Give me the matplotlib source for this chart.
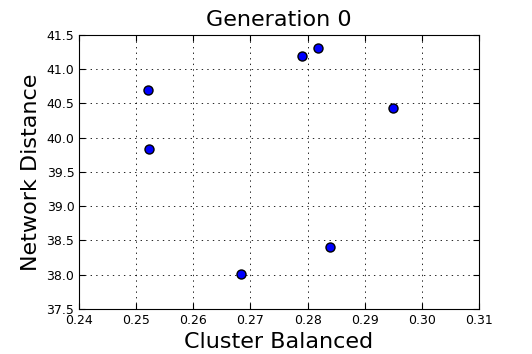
import matplotlib
matplotlib.use("Agg")
import matplotlib.pyplot as plt

# values
cluster_balanced = [0.2521, 0.2522, 0.2791, 0.2819, 0.2949, 0.2840, 0.2684]
network_distance = [40.69, 39.835, 41.19, 41.31, 40.43, 38.41, 38.01]

x_ticks = [0.24, 0.25, 0.26, 0.27, 0.28, 0.29, 0.30, 0.31]
y_ticks = [37.5, 38.0, 38.5, 39.0, 39.5, 40.0, 40.5, 41.0, 41.5]

plt.rcParams["lines.scale_dashes"] = False

fig, ax = plt.subplots(figsize=(5.32, 3.54), dpi=100)
fig.subplots_adjust(left=0.149, right=0.9, top=0.902, bottom=0.127)

ax.plot(cluster_balanced, network_distance, "o", color="#0000ff",
        mec="black", mew=1.0, ms=6.5)

ax.set_xlim(0.24, 0.31)
ax.set_ylim(37.5, 41.5)
ax.set_xticks(x_ticks)
ax.set_xticklabels([f"{v:.2f}" for v in x_ticks])
ax.set_yticks(y_ticks)
ax.set_yticklabels([f"{v:.1f}" for v in y_ticks])
ax.tick_params(direction="in", top=True, right=True, labelsize=9, length=4)
ax.grid(True, color="black", ls=(0, (1, 3)), lw=0.6)

ax.set_title("Generation 0", fontsize=16)
ax.set_xlabel("Cluster Balanced", fontsize=16)
ax.set_ylabel("Network Distance", fontsize=16)

fig.savefig("out.png", dpi=100)
